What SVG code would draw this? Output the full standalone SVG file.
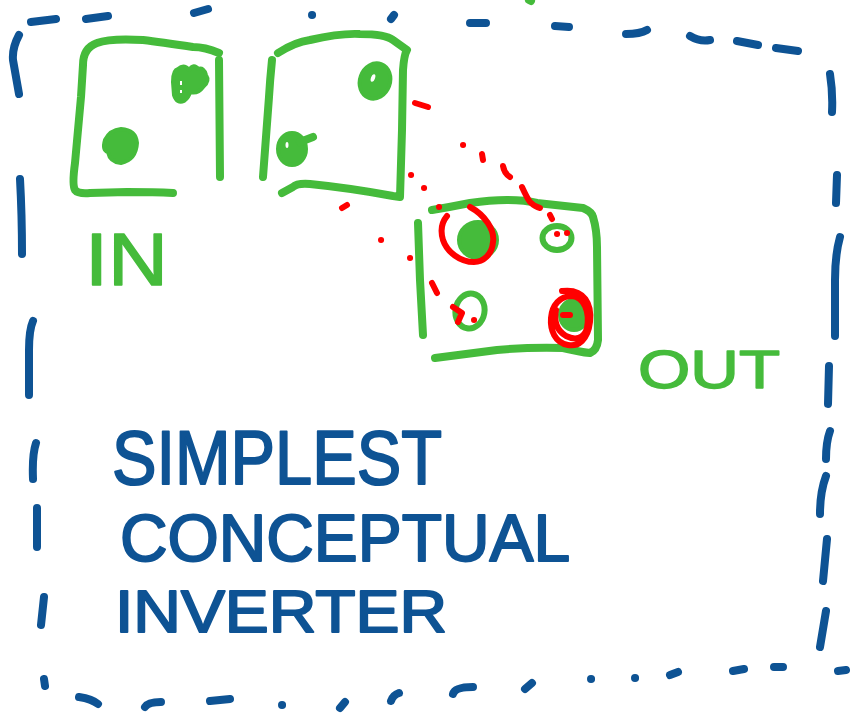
<svg xmlns="http://www.w3.org/2000/svg" width="854" height="715" viewBox="0 0 854 715">
<style>
.blue{fill:none;stroke:#0e5394;stroke-width:8;stroke-linecap:round;stroke-linejoin:round}
.green{fill:none;stroke:#45bb3b;stroke-width:8;stroke-linecap:round;stroke-linejoin:round}
.gfill{fill:#45bb3b;stroke:#45bb3b;stroke-width:4;stroke-linejoin:round}
.ring{fill:none;stroke:#45bb3b;stroke-width:6}
.red{fill:none;stroke:#ff0000;stroke-width:6;stroke-linecap:round;stroke-linejoin:round}
.hole{fill:#ffffff}
.tb{font-family:"Liberation Sans","DejaVu Sans",sans-serif;fill:#0e5394;stroke:#0e5394;stroke-width:2;stroke-linejoin:round}
.tg{font-family:"Liberation Sans","DejaVu Sans",sans-serif;fill:#45bb3b;stroke:#45bb3b;stroke-width:1.5;stroke-linejoin:round}
</style>
<rect width="854" height="715" fill="#ffffff"/>
<g id="frame" class="blue">
<path d="M31,22 L56,19 M86,19 L108,16 M194,13 L208,9 M312,15 l0.1,0 M391,19 L394,15 M470,23 L486,23 M555,26 L569,27 M626,34 Q640,34 647,30 M690,36 Q700,42 710,40 M737,41 L758,45 M776,48 L798,51"/>
<path d="M19,35 Q12,48 13,60 L19,94 M20,179 Q22,215 22,254 M33,321 Q29,330 29,350 L29,395 M36,443 Q32,455 33,479 M37,508 L37,547 M44,597 L41,625 M44,679 L45,686"/>
<path d="M830,74 Q833,93 832,112 M837,175 L836,203 M840,237 Q835,255 835,280 L835,336 M829,366 L828,404 M830,431 Q826,442 826,459 M826,476 Q820,492 820,514 M827,539 L823,581 M826,611 L820,647 M838,671 L846,670"/>
<path d="M79,697 Q92,699 98,704 M145,707 Q148,702 161,702 M210,701 L230,699 M282,705 l0.1,0 M340,708 L345,702 M391,701 Q393,695 399,693 M453,694 Q455,687 473,687 M525,689 L532,683 M591,679 l0.1,0 M635,678 l0.1,0 M670,675 L678,672 M733,671 L744,669 M774,667 L783,667"/>
</g>
<g id="node-in">
<path class="green" d="M219,53 Q205,47 193,47 Q160,42 143,40 Q110,38 97,43 Q83,48 83,65 L81,97 Q78,130 75,163 Q72,185 75,190 Q78,194 90,193 L127,192 Q155,192 173,193"/>
<path class="green" d="M219,60 L220,177"/>
<path class="gfill" d="M105,140 Q110,130 121,129 Q136,130 137,143 Q136,160 121,163 Q110,162 108,152 Q102,150 105,140 Z"/>
<path class="gfill" d="M178,69 Q173,70 173,82 L174,95 Q177,104 184,101 Q189,97 190,92 Q198,94 203,87 Q210,81 206,75 Q204,67 198,69 Q194,63 189,70 Q184,64 178,69 Z"/>
<path class="hole" d="M180,81 h2 v4 h-2 Z M180,90 h2 v3 h-2 Z"/>
<text class="tg" x="85" y="285" font-size="74" textLength="83" lengthAdjust="spacingAndGlyphs">IN</text>
</g>
<g id="node-mid">
<path class="green" d="M272,60 Q270,80 269,97 L263,177"/>
<path class="green" d="M278,53 Q295,42 310,40 Q340,33 360,34 Q385,34 393,40 Q400,45 407,50 Q404,55 403,70 L402,130 L400,197 L393,196 Q350,188 310,184 Q297,183 293,187 L282,193"/>
<ellipse class="gfill" cx="375" cy="81" rx="15" ry="18" transform="rotate(20 375 81)"/>
<ellipse class="hole" cx="373" cy="78" rx="2" ry="4" transform="rotate(20 373 78)"/>
<ellipse class="gfill" cx="292" cy="149" rx="14" ry="16"/>
<path class="green" d="M300,142 L313,137"/>
<ellipse class="hole" cx="287" cy="145" rx="1.5" ry="3"/>
</g>
<g id="node-out">
<path class="green" d="M418,223 Q419,250 420,280 L423,335"/>
<path class="green" d="M432,210 Q450,207 470,203 Q490,200 507,200 Q525,200 537,203 L583,208 Q592,212 593,217 Q597,230 597,247 L598,340 Q597,350 590,353 Q580,352 563,348 Q530,347 497,350 L435,358"/>
<ellipse class="gfill" cx="478" cy="240" rx="19" ry="18"/>
<ellipse class="ring" cx="557" cy="238" rx="14.5" ry="12"/>
<ellipse class="ring" cx="470" cy="311" rx="14.5" ry="17.5" transform="rotate(10 470 311)"/>
<ellipse class="gfill" cx="574" cy="315" rx="14" ry="15"/>
<text class="tg" x="638" y="388" font-size="54" textLength="142" lengthAdjust="spacingAndGlyphs">OUT</text>
</g>
<g id="connectors" class="red">
<path d="M415,103 L428,107 M463,145 l0.1,0 M482,154 L483,160 M503,166 Q504,173 510,177 M522,187 Q527,198 530,202 Q535,207 540,208 M550,215 L552,219 M557,234 l0.1,0 M567,233 l0.1,0"/>
<path d="M411,175 l0.1,0 M424,188 l0.1,0 M439,207 l0.1,0"/>
<path d="M342,208 L347,205 M381,240 l0.1,0 M410,258 l0.1,0 M432,283 L437,293 M453,307 L462,313 L458,322 M474,320 l0.1,0"/>
<path d="M470,207 C485,215 495,230 493,242 C492,255 483,262 474,262 C460,262 447,252 443,240 C440,230 442,222 447,216"/>
<path d="M562,291 C585,288 592,305 590,322 C588,340 578,347 568,345 C555,343 550,330 551,318 C552,305 560,296 572,296 C584,297 590,312 587,328 C584,340 574,340 566,336 C556,330 554,320 556,310 M563,315 L570,315"/>
</g>
<path class="green" d="M529,0 L531,1" stroke-width="5"/>
<g id="title">
<text class="tb" x="112" y="484" font-size="76" textLength="330" lengthAdjust="spacingAndGlyphs">SIMPLEST</text>
<text class="tb" x="120" y="561" font-size="66" textLength="450" lengthAdjust="spacingAndGlyphs">CONCEPTUAL</text>
<text class="tb" x="115" y="632" font-size="60" textLength="332" lengthAdjust="spacingAndGlyphs">INVERTER</text>
</g>
</svg>
